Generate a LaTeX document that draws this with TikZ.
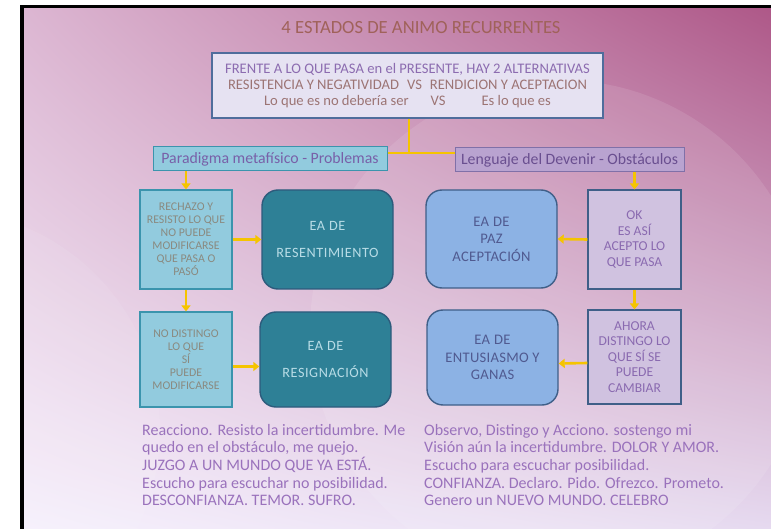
\documentclass[tikz,border=0pt]{standalone}
\usepackage{fontspec}
\setmainfont{Carlito}
\usetikzlibrary{arrows.meta,shadings}
\definecolor{titlec}{HTML}{A0625A}
\definecolor{topfill}{HTML}{E6E2F2}
\definecolor{topdraw}{HTML}{4F6D9C}
\definecolor{toptxtA}{HTML}{8C6CB0}
\definecolor{toptxtB}{HTML}{9C7474}
\definecolor{lhfill}{HTML}{92CBDE}
\definecolor{lhdraw}{HTML}{3B94AD}
\definecolor{lhtxt}{HTML}{7860A8}
\definecolor{rhfill}{HTML}{B9A3D0}
\definecolor{rhdraw}{HTML}{8070A8}
\definecolor{rhtxt}{HTML}{6A4F90}
\definecolor{lbtxt}{HTML}{8A8A80}
\definecolor{dbfill}{HTML}{2E8096}
\definecolor{dbdraw}{HTML}{2D5B7C}
\definecolor{dbtxt}{HTML}{B8DCE6}
\definecolor{rbfill}{HTML}{D0C2E0}
\definecolor{rbdraw}{HTML}{3F5F88}
\definecolor{rbtxt}{HTML}{8A6AB0}
\definecolor{bbfill}{HTML}{8CB2E4}
\definecolor{bbtxt}{HTML}{505A90}
\definecolor{bottxt}{HTML}{9A72BC}
\definecolor{arrc}{HTML}{F5C400}
\definecolor{bgUL}{HTML}{DCB6D2}
\definecolor{bgUR}{HTML}{AE5888}
\definecolor{bgLL}{HTML}{F6F0FC}
\definecolor{bgLR}{HTML}{E6DAF0}
\begin{document}
\begin{tikzpicture}[x=1pt,y=-1pt,
  topbox/.style={draw=topdraw,line width=1.4pt,fill=topfill,minimum width=391pt,minimum height=65pt,inner sep=0pt,align=center,font=\fontsize{14.6}{16}\selectfont},
  lhead/.style={draw=lhdraw,line width=1pt,fill=lhfill,minimum width=234pt,minimum height=24pt,inner sep=0pt,text=lhtxt,font=\fontsize{15.8}{17}\selectfont},
  rhead/.style={draw=rhdraw,line width=1pt,fill=rhfill,minimum width=229pt,minimum height=24pt,inner sep=0pt,text=rhtxt,font=\fontsize{15.8}{17}\selectfont},
  lbox/.style={draw=lhdraw,line width=1.2pt,fill=lhfill,minimum width=92pt,inner sep=0pt,align=center,text=lbtxt,font=\fontsize{11.8}{13}\selectfont},
  dbox/.style={draw=dbdraw,line width=1.4pt,fill=dbfill,rounded corners=16pt,minimum width=131pt,inner sep=0pt,align=center,text=dbtxt,font=\fontsize{14.2}{27}\selectfont\addfontfeature{LetterSpace=4}},
  rbox/.style={draw=rbdraw,line width=1.2pt,fill=rbfill,minimum width=93pt,inner sep=0pt,align=center,text=rbtxt,font=\fontsize{13.6}{15.5}\selectfont},
  bbox/.style={draw=rbdraw,line width=1.4pt,fill=bbfill,rounded corners=16pt,minimum width=131pt,inner sep=0pt,align=center,text=bbtxt,font=\fontsize{14.6}{17.5}\selectfont\addfontfeature{LetterSpace=2}},
  conn/.style={draw=arrc,line width=2.6pt},
  arr/.style={draw=arrc,line width=2.6pt,-{Triangle[length=6pt,width=9pt]}},
  bottom/.style={anchor=north west,align=left,inner sep=0pt,text=bottxt,font=\fontsize{16}{17.6}\selectfont}
]
\useasboundingbox (0,0) rectangle (771,529);
\fill[white] (0,0) rectangle (771,529);
\shade[upper left=bgUL,upper right=bgUR,lower left=bgLL,lower right=bgLR] (24,8) rectangle (771,529);
\fill[white,opacity=0.10] (560,330) circle (250);
\fill[white,opacity=0.08] (-60,430) circle (220);
\fill[black] (20,5) rectangle (771,8);
\fill[black] (20,5) rectangle (24,529);

\node[text=titlec,font=\fontsize{18.6}{20}\selectfont] (title) at (421,28) {4 ESTADOS DE ANIMO RECURRENTES};

\node[topbox] (top) at (407.5,85.5) {\textcolor{toptxtA}{FRENTE A LO QUE PASA en el PRESENTE, HAY 2 ALTERNATIVAS}\\
\textcolor{toptxtB}{RESISTENCIA Y NEGATIVIDAD\hspace{8pt}VS\hspace{8pt}RENDICION Y ACEPTACION}\\
\textcolor{toptxtB}{Lo que es no debería ser\hspace{22pt}VS\hspace{36pt}Es lo que es}};

\node[lhead] (lh) at (270,159) {Paradigma metafísico - Problemas};
\node[rhead] (rh) at (569.5,160) {Lenguaje del Devenir - Obstáculos};

\coordinate (junc) at (409,153);
\draw[conn] (top.south -| junc) -- (junc);
\draw[conn] (lh.east |- junc) -- (rh.west |- junc);

\node[lbox,minimum height=99pt] (lb1) at (186,239.5) {RECHAZO Y\\RESISTO LO QUE\\NO PUEDE\\MODIFICARSE\\QUE PASA O\\PASÓ};
\node[dbox,minimum height=99pt] (db1) at (327.5,239.5) {EA\hspace{4pt}DE\\RESENTIMIENTO};
\node[lbox,minimum height=95pt] (lb2) at (186,359.5) {NO DISTINGO\\LO QUE\\SÍ\\PUEDE\\MODIFICARSE};
\node[dbox,minimum height=95pt] (db2) at (325.5,359.5) {EA\hspace{4pt}DE\\RESIGNACIÓN};

\node[rbox,minimum height=99pt] (rb1) at (634.5,239.5) {OK\\ES ASÍ\\ACEPTO LO\\QUE PASA};
\node[bbox,minimum height=98pt] (bb1) at (491.5,239) {EA\hspace{4pt}DE\\PAZ\\ACEPTACIÓN};
\node[rbox,minimum height=94pt] (rb2) at (634.5,357) {AHORA\\DISTINGO LO\\QUE SÍ SE\\PUEDE\\CAMBIAR};
\node[bbox,minimum height=95pt] (bb2) at (492.5,357.5) {EA\hspace{4pt}DE\\ENTUSIASMO Y\\GANAS};

\draw[arr] (lb1.north |- lh.south) -- (lb1.north);
\draw[arr] (lb1.east) -- (db1.west);
\draw[arr] (lb1.south) -- (lb2.north);
\draw[arr] ([yshift=-7pt]lb2.east) -- ([yshift=-7pt]db2.west);

\draw[arr] (rb1.north |- rh.south) -- (rb1.north);
\draw[arr] (rb1.west) -- (bb1.east);
\draw[arr] (rb1.south) -- (rb2.north);
\draw[arr] ([yshift=-6pt]rb2.west) -- ([yshift=-6pt]bb2.east);

\node[bottom] (bl) at (142,424) {Reacciono. Resisto la incertidumbre. Me\\quedo en el obstáculo, me quejo.\\JUZGO A UN MUNDO QUE YA ESTÁ.\\Escucho para escuchar no posibilidad.\\DESCONFIANZA. TEMOR. SUFRO.};
\node[bottom] (br) at (424,424) {Observo, Distingo y Acciono. sostengo mi\\Visión aún la incertidumbre. DOLOR Y AMOR.\\Escucho para escuchar posibilidad.\\CONFIANZA. Declaro. Pido. Ofrezco. Prometo.\\Genero un NUEVO MUNDO. CELEBRO};
\end{tikzpicture}
\end{document}
